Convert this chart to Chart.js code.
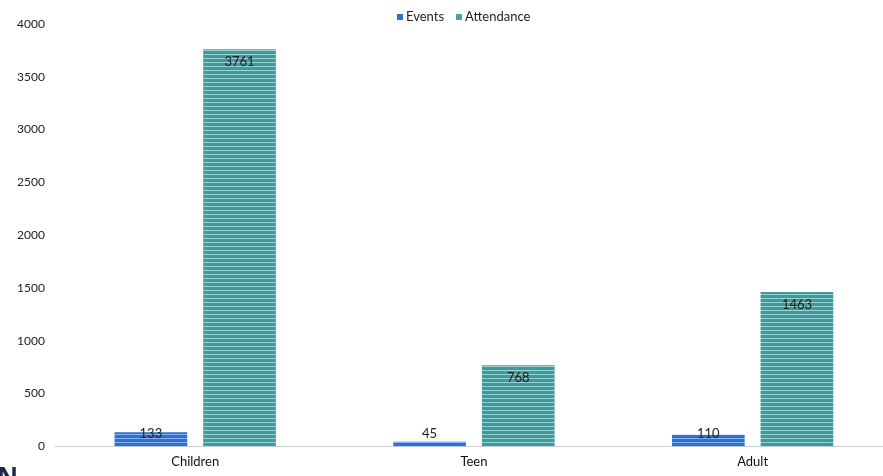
<html>
  <head>
    <style>
      body { margin: 0; overflow: hidden; background: #fff; }
      #wrap { position: absolute; left: 0; top: 0; width: 900px; height: 476px; }
      #logo { position: absolute; left: -3px; top: 458px; font: bold 26px 'Noto Sans', sans-serif; color: #1c2a48; }
      #legend { position: absolute; left: 397px; top: 8px; font: 13px Lato, sans-serif; color: #222; line-height: 16px; white-space: nowrap; }
      #legend span.box { display: inline-block; width: 6px; height: 6px; margin-right: 3px; vertical-align: 1px; }
      #legend span.item { margin-right: 12px; }
    </style>
  </head>

  <body>
    <div id="wrap"><canvas id="myChart"></canvas></div>
    <div id="legend"></div>
    <div id="logo">N</div>

    <script src="https://cdn.jsdelivr.net/npm/chart.js@4/dist/chart.umd.min.js"></script>
    <script>
      const categories = ['Children', 'Teen', 'Adult']
      const events = [133, 45, 110]
      const attendance = [3761, 768, 1463]
      const yTicks = [0, 500, 1000, 1500, 2000, 2500, 3000, 3500, 4000]
      const legendColors = ['#2f6fcf', '#4aa3a3']

      // striped fill like the scanned bars
      function stripes(dark, light) {
        const c = document.createElement('canvas')
        c.width = 4
        c.height = 4
        const g = c.getContext('2d')
        g.fillStyle = dark
        g.fillRect(0, 0, 4, 4)
        g.fillStyle = light
        g.fillRect(0, 2, 4, 1)
        return g.createPattern(c, 'repeat')
      }

      // value labels near the top of each bar
      const valueLabels = {
        id: 'valueLabels',
        afterDatasetsDraw(chart) {
          const ctx = chart.ctx
          const base = chart.scales.y.getPixelForValue(0)
          ctx.save()
          ctx.font = '13px Lato, sans-serif'
          ctx.fillStyle = '#222'
          ctx.textAlign = 'center'
          ctx.textBaseline = 'middle'
          chart.data.datasets.forEach((ds, i) => {
            chart.getDatasetMeta(i).data.forEach((bar, j) => {
              const y = Math.min(bar.y + 13, base - 13)
              ctx.fillText(ds.data[j], bar.x, y)
            })
          })
          ctx.restore()
        },
      }

      const ctx = document.getElementById('myChart').getContext('2d')
      let chart = new Chart(ctx, {
        type: 'bar',
        data: {
          labels: categories,
          datasets: [
            {
              label: 'Events',
              data: events,
              backgroundColor: stripes('#2f6fcf', '#86b3ea'),
              categoryPercentage: 0.636,
              barPercentage: 0.82,
            },
            {
              label: 'Attendance',
              data: attendance,
              backgroundColor: stripes('#3a9c9c', '#9ccfcf'),
              categoryPercentage: 0.636,
              barPercentage: 0.82,
            },
          ],
        },
        options: {
          responsive: true,
          maintainAspectRatio: false,
          animation: false,
          layout: { padding: { left: 6, top: 24, right: 8, bottom: -2 } },
          plugins: {
            tooltip: { enabled: false },
            legend: { display: false },
          },
          scales: {
            x: {
              grid: { display: false, drawTicks: false },
              border: { display: true, color: '#cfcfcf', dash: [2, 2] },
              ticks: { color: '#111', padding: 8, font: { family: 'Lato, sans-serif', size: 13 } },
            },
            y: {
              min: 0,
              max: 4000,
              afterBuildTicks(axis) {
                axis.ticks = yTicks.map((v) => ({ value: v }))
              },
              grid: { display: false, drawTicks: false },
              border: { display: false },
              ticks: {
                color: '#222',
                padding: 11,
                font: { family: 'Lato, sans-serif', size: 12 },
                callback: (v) => String(v),
              },
            },
          },
        },
        plugins: [valueLabels],
      })

      // legend from the dataset labels
      document.getElementById('legend').innerHTML = chart.data.datasets
        .map((ds, i) => '<span class="item"><span class="box" style="background:' + legendColors[i] + '"></span>' + ds.label + '</span>')
        .join('')
    </script>
  </body>
</html>
